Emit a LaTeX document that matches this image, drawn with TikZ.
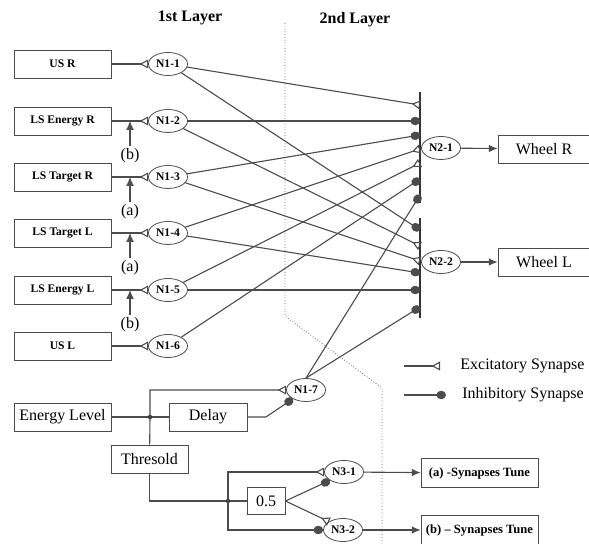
\documentclass[tikz,border=0pt]{standalone}
\usepackage{fontspec}
\setmainfont{Liberation Serif}
\usetikzlibrary{arrows.meta,shapes.geometric}

\begin{document}
\begin{tikzpicture}[x=0.5pt,y=-0.5pt,
  wire/.style={draw=black!70,line width=0.55pt},
  exc/.style={wire,-{Triangle[open,reversed,length=4.2pt,width=4.4pt]}},
  inh/.style={wire,-{Circle[length=4.8pt,width=4.2pt]}},
  feed/.style={wire,-{Latex[length=4.4pt,width=3.8pt]}},
  bar/.style={draw=black!80,line width=0.9pt},
  inbox/.style={draw=black!70,minimum width=48.5pt,minimum height=14pt,inner sep=0pt,
    font=\bfseries\fontsize{5.8}{6}\selectfont},
  box/.style={draw=black!70,minimum height=14pt,inner sep=0pt,font=\fontsize{8}{9}\selectfont},
  tunebox/.style={draw=black!70,minimum width=58.5pt,minimum height=14.5pt,inner sep=0pt,
    font=\bfseries\fontsize{6.3}{7}\selectfont},
  neuron/.style={ellipse,draw=black!70,minimum width=19.5pt,minimum height=11.5pt,inner sep=0pt,
    font=\bfseries\fontsize{5.8}{6}\selectfont},
  tag/.style={inner sep=1pt,font=\fontsize{8}{9}\selectfont},
  title/.style={font=\bfseries\fontsize{8}{9}\selectfont}]
\useasboundingbox (0,0) rectangle (589,544);

\node[title] (lay1) at (190,18) {1st Layer};
\node[title] (lay2) at (355,20) {2nd Layer};
\draw[black!60,densely dotted] (285,23) -- (285,316) -- (382,388) -- (382,544); % layer border

% sensors and first layer
\foreach \i/\txt/\y in {1/US R/64,2/LS Energy R/121,3/LS Target R/177,
                        4/LS Target L/233,5/LS Energy L/290,6/US L/346}{
  \node[inbox] (in\i) at (62.5,\y) {\txt};
  \node[neuron] (n1\i) at (168,\y) {N1-\i};
  \draw[exc] (in\i) -- (n1\i);
}
\foreach \i/\lab in {2/b,3/a,4/a,5/b}{
  \node[tag] (t\i) at ([yshift=-17.5pt]in\i -| 130,0) {(\lab)};
  \draw[feed] (t\i) -- (t\i |- in\i);
}

% second layer
\draw[bar] (420,92) -- (420,203);
\draw[bar] (420,218) -- (420,318);
\foreach \k/\y in {1/105,2/121,3/135,4/149,5/163,6/179,7/195} \coordinate (u\k) at (420,\y);
\foreach \k/\y in {1/230,2/246,3/261,4/273,5/290,6/307} \coordinate (l\k) at (420,\y);
\node[neuron] (n21) at (441,148) {N2-1};
\node[neuron] (n22) at (441,262) {N2-2};
\node[box,minimum width=46pt] (wr) at (544,149) {Wheel R};
\node[box,minimum width=46pt] (wl) at (544,262) {Wheel L};
\draw[feed] (n21) -- (wr);
\draw[feed] (n22) -- (wl);

\foreach \a/\b/\s in {11/u1/exc,11/l1/inh,12/u2/inh,12/l2/exc,13/u3/inh,13/l3/exc,
                      14/u4/exc,14/l4/inh,15/u5/exc,15/l5/inh,16/u6/inh}
  \draw[\s] (n\a) -- (\b);

% energy part
\node[box,minimum width=48.5pt] (energy) at (62.5,417) {Energy Level};
\node[box,minimum width=39pt] (delay) at (208,417) {Delay};
\node[box,minimum width=38.5pt] (thr) at (149.5,459) {Thresold};
\node[neuron] (n17) at (306,390) {N1-7};
\coordinate (j1) at (150,417);
\coordinate (d1) at (266,417);
\draw[wire] (energy) -- (delay);
\fill[black!80] (j1) circle (2.2);
\draw[exc] (thr) -- (j1) |- (n17);
\draw[inh] (delay) -- (d1) -- (n17);
\draw[inh] (n17.north) -- (u7);
\draw[inh] (n17.north) -- (l6);

% third layer
\coordinate (j2) at (228,501);
\node[box,minimum width=19pt,minimum height=13.5pt] (half) at (266,501) {0.5};
\node[neuron] (n31) at (344,472) {N3-1};
\node[neuron] (n32) at (343,530) {N3-2};
\draw[wire] (thr) |- (j2) -- (half);
\fill[black!80] (j2) circle (2.2);
\draw[exc] (j2) |- (n31);
\draw[inh] (j2) |- (n32);
\draw[inh] (half.east) -- (n31.south west);
\draw[exc] (half.east) -- (n32.north west);
\node[tunebox] (tunea) at (479.5,473) {(a) -Synapses Tune};
\node[tunebox] (tuneb) at (479.5,530) {(b) – Synapses Tune};
\draw[feed] (n31) -- (tunea);
\draw[feed] (n32) -- (tuneb);

% legend
\coordinate (lgEa) at (404,366);
\coordinate (lgEb) at (440,366);
\coordinate (lgIa) at (404,395);
\coordinate (lgIb) at (446,395);
\node[tag,anchor=west] (lgE) at (458,366) {Excitatory Synapse};
\node[tag,anchor=west] (lgI) at (460,395) {Inhibitory Synapse};
\draw[exc] (lgEa) -- (lgEb);
\draw[inh] (lgIa) -- (lgIb);
\end{tikzpicture}
\end{document}
